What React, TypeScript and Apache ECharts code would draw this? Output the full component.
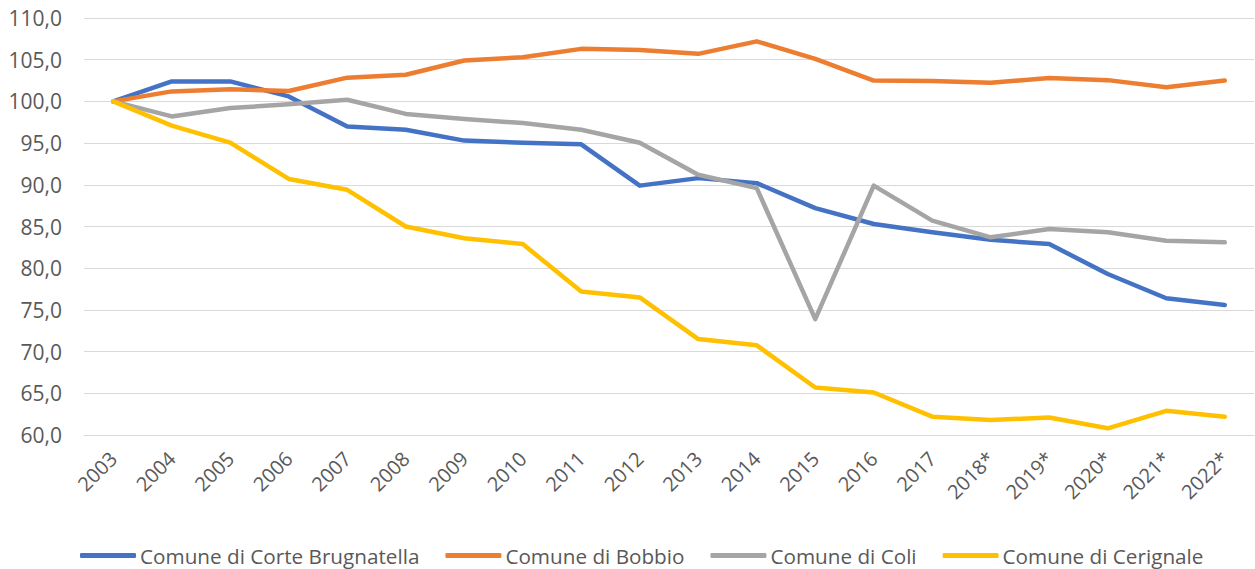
import React, { useEffect, useRef } from "react";
import * as echarts from "echarts";

const years = ["2003","2004","2005","2006","2007","2008","2009","2010","2011","2012","2013","2014","2015","2016","2017","2018*","2019*","2020*","2021*","2022*"];
const corteBrugnatella = [100,102.4,102.4,100.6,97.0,96.6,95.3,95.05,94.85,89.9,90.8,90.2,87.2,85.3,84.3,83.4,82.9,79.3,76.4,75.6];
const bobbio = [100,101.2,101.45,101.25,102.85,103.2,104.9,105.3,106.3,106.15,105.7,107.2,105.1,102.5,102.45,102.25,102.8,102.55,101.7,102.5];
const coli = [100,98.2,99.2,99.65,100.2,98.5,97.9,97.4,96.6,95.05,91.2,89.6,73.9,89.9,85.7,83.7,84.7,84.3,83.3,83.1];
const cerignale = [100,97.1,95.05,90.7,89.4,85.0,83.6,82.9,77.2,76.5,71.5,70.75,65.7,65.1,62.2,61.8,62.1,60.8,62.9,62.2];

const seriesNames = ["Comune di Corte Brugnatella","Comune di Bobbio","Comune di Coli","Comune di Cerignale"];
const seriesColors = ["#4472C4","#ED7D31","#A5A5A5","#FFC000"];
const seriesData = [corteBrugnatella, bobbio, coli, cerignale];

const FONT = "'Open Sans', sans-serif";

export default function App() {
  const ref = useRef<HTMLDivElement>(null);
  useEffect(() => {
    if (!ref.current) return;
    const chart = echarts.init(ref.current, null, { renderer: "svg" });
    chart.setOption({
      animation: false,
      backgroundColor: "#ffffff",
      grid: { left: 84, right: 1, top: 18, bottom: 134 },
      legend: {
        data: seriesNames,
        left: 75,
        top: 540,
        icon: "roundRect",
        itemWidth: 56,
        itemHeight: 5,
        itemGap: 26,
        textStyle: { color: "#595959", fontSize: 20.7, fontFamily: FONT, padding: [0, 0, 0, -1] },
      },
      xAxis: {
        type: "category",
        data: years,
        boundaryGap: true,
        axisLine: { show: true, lineStyle: { color: "#d9d9d9", width: 1 } },
        axisTick: { show: false },
        axisLabel: { rotate: 45, color: "#595959", fontSize: 20, fontFamily: FONT, margin: 20 },
      },
      yAxis: {
        type: "value",
        min: 60,
        max: 110,
        interval: 5,
        axisLine: { show: false },
        axisTick: { show: false },
        splitLine: { lineStyle: { color: "#d9d9d9", width: 1 } },
        axisLabel: {
          color: "#595959",
          fontSize: 21,
          fontFamily: FONT,
          margin: 22,
          formatter: (v: number) => v.toFixed(1).replace(".", ","),
        },
      },
      series: seriesNames.map((name, i) => ({
        name,
        type: "line",
        data: seriesData[i],
        symbol: "none",
        lineStyle: { color: seriesColors[i], width: 4.5, cap: "round", join: "round" },
        itemStyle: { color: seriesColors[i] },
      })),
    });
    return () => chart.dispose();
  }, []);
  return (
    <div
      ref={ref}
      style={{ position: "absolute", left: 0, top: 0, width: 1255, height: 569 }}
    />
  );
}
